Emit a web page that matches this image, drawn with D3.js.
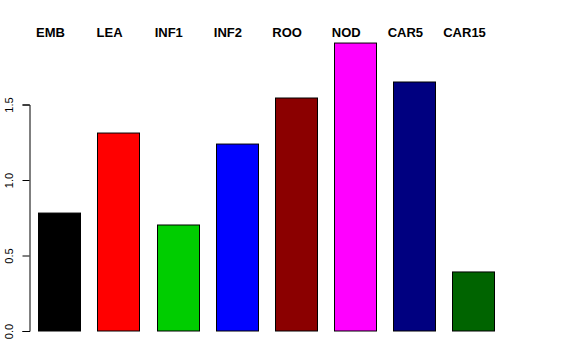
<!DOCTYPE html>
<html><head><meta charset="utf-8">
<script src="https://cdn.jsdelivr.net/npm/d3@7"></script>
<style>body{margin:0;background:#fff}svg{display:block;font-family:"Liberation Sans",Arial,sans-serif}</style>
</head><body>
<svg id="c" width="576" height="360"></svg>
<script>
const categories = ["EMB","LEA","INF1","INF2","ROO","NOD","CAR5","CAR15"];
const values = [0.781, 1.311, 0.702, 1.238, 1.543, 1.907, 1.649, 0.391];
const colors = ["#000000","#ff0000","#00cd00","#0000ff","#8b0000","#ff00ff","#000080","#006400"];
const yTicks = [0, 0.5, 1.0, 1.5];
const yTickLabels = ["0.0","0.5","1.0","1.5"];

const svg = d3.select("#c");
const y = d3.scaleLinear().domain([0, 1.5]).range([331, 104.5]);
const x = d3.scaleBand().domain(categories).range([26.5, 506.5]).paddingInner(0.2857).paddingOuter(0.2);

svg.selectAll("rect.bar").data(categories).join("rect")
  .attr("class","bar")
  .attr("x", d => Math.round(x(d)) + 0.5)
  .attr("width", Math.round(x.bandwidth()))
  .attr("y", (d,i) => y(values[i]))
  .attr("height", (d,i) => y(0) - y(values[i]))
  .attr("fill", (d,i) => colors[i])
  .attr("stroke", "#000").attr("stroke-width", 1);

const ax = svg.append("g").attr("transform","translate(29.5,0)")
  .call(d3.axisLeft(y).tickValues(yTicks).tickFormat((d,i)=>yTickLabels[i]).tickSizeOuter(0).tickSize(7));
ax.select(".domain").attr("stroke","#000");
ax.selectAll(".tick line").attr("stroke","#000");
ax.selectAll(".tick text")
  .attr("transform","rotate(-90)")
  .attr("x", 0).attr("y", -17).attr("dy", 0)
  .attr("text-anchor","middle")
  .attr("font-size", 11).attr("fill","#000")
  .style("font-family","Liberation Sans, Arial, sans-serif");

svg.selectAll("text.lab").data(categories).join("text")
  .attr("class","lab")
  .attr("x", d => x(d) + x.bandwidth() / 2 - 9).attr("y", 37)
  .attr("text-anchor","middle")
  .attr("font-weight","bold").attr("font-size", 13)
  .text(d => d);
</script>
</body></html>
